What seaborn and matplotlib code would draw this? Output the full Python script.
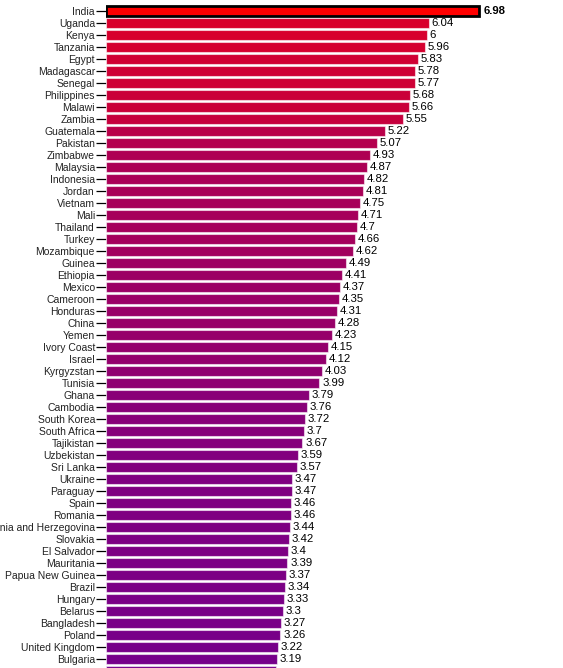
import pandas as pd
import matplotlib
matplotlib.use('Agg')
import matplotlib.pyplot as plt
import seaborn as sns
from matplotlib.colors import LinearSegmentedColormap, Normalize

# data (last row is cut off at the bottom, label not visible)
countries = ['India', 'Uganda', 'Kenya', 'Tanzania', 'Egypt', 'Madagascar', 'Senegal',
             'Philippines', 'Malawi', 'Zambia', 'Guatemala', 'Pakistan', 'Zimbabwe',
             'Malaysia', 'Indonesia', 'Jordan', 'Vietnam', 'Mali', 'Thailand', 'Turkey',
             'Mozambique', 'Guinea', 'Ethiopia', 'Mexico', 'Cameroon', 'Honduras', 'China',
             'Yemen', 'Ivory Coast', 'Israel', 'Kyrgyzstan', 'Tunisia', 'Ghana', 'Cambodia',
             'South Korea', 'South Africa', 'Tajikistan', 'Uzbekistan', 'Sri Lanka',
             'Ukraine', 'Paraguay', 'Spain', 'Romania', 'Bosnia and Herzegovina', 'Slovakia',
             'El Salvador', 'Mauritania', 'Papua New Guinea', 'Brazil', 'Hungary', 'Belarus',
             'Bangladesh', 'Poland', 'United Kingdom', 'Bulgaria', '']
scores = [6.98, 6.04, 6, 5.96, 5.83, 5.78, 5.77, 5.68, 5.66, 5.55, 5.22, 5.07, 4.93,
          4.87, 4.82, 4.81, 4.75, 4.71, 4.7, 4.66, 4.62, 4.49, 4.41, 4.37, 4.35, 4.31, 4.28,
          4.23, 4.15, 4.12, 4.03, 3.99, 3.79, 3.76, 3.72, 3.7, 3.67, 3.59, 3.57,
          3.47, 3.47, 3.46, 3.46, 3.44, 3.42, 3.4, 3.39, 3.37, 3.34, 3.33, 3.3,
          3.27, 3.26, 3.22, 3.19, 3.18]
highlight = 'India'

df = pd.DataFrame({'country': countries, 'score': scores})

sns.set_style('white')
plt.rcParams['font.family'] = ['Liberation Sans', 'DejaVu Sans']

W, H = 563, 668
fig = plt.figure(figsize=(W / 100, H / 100), dpi=100)
left = 106 / W
ax = fig.add_axes([left, 0, 1 - left, 1])

# red -> purple by value
cmap = LinearSegmentedColormap.from_list('rp', ['#76008a', '#a2005e', '#d8002c'])
norm = Normalize(min(scores), 6.04)
colors = ['#ff0000' if c == highlight else cmap(norm(v)) for c, v in zip(countries, scores)]

sns.barplot(data=df, x='score', y='country', hue='country', palette=colors,
            saturation=1, legend=False, width=0.85, ax=ax,
            edgecolor=(1, 1, 1, 0.55), linewidth=0.8)

# highlighted bar gets a black border
for p, c in zip(ax.patches, countries):
    if c == highlight:
        p.set_edgecolor('black')
        p.set_linewidth(2)

# value labels
for i, (c, v) in enumerate(zip(countries, scores)):
    if c == '':
        continue
    off = 0.07 if c == highlight else 0.05
    ax.text(v + off, i, f'{v:g}', va='center', ha='left', fontsize=8.2,
            color='black', fontweight='bold' if c == highlight else 'normal', clip_on=True)

ax.set_xlim(0, (W - 106) / 53.5)
ax.set_ylim(54.75, -0.92)
ax.set_xticks([])
ax.set_xlabel('')
ax.set_ylabel('')
ax.tick_params(axis='y', length=7, width=0.9, color='black', pad=1,
               labelsize=7.5, labelcolor='#222222', left=True)
for s in ax.spines.values():
    s.set_visible(False)

fig.savefig('out.png', dpi=100)
